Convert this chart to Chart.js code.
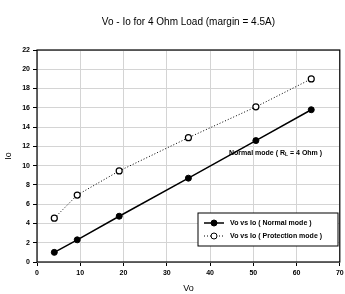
<!DOCTYPE html>
<html>
<head>
<meta charset="utf-8">
<script src="https://cdn.jsdelivr.net/npm/chart.js@4.4.0/dist/chart.umd.min.js"></script>
<style>
  html, body { margin: 0; padding: 0; background: #fff; }
  #wrap { width: 345px; height: 294px; }
</style>
</head>
<body>
<div id="wrap"><canvas id="myChart" width="345" height="294"></canvas></div>
<script>
"use strict";

// values
const vo = [4, 9.3, 19, 35, 50.6, 63.4];
const ioNormal = [1.0, 2.3, 4.75, 8.7, 12.6, 15.8];
const ioProtection = [4.55, 6.95, 9.45, 12.9, 16.1, 19.0];
const seriesNames = ['Vo vs Io ( Normal mode )', 'Vo vs Io ( Protection mode )'];

const FONT = '"Liberation Sans", Arial, sans-serif';

const toPoints = (xs, ys) => xs.map((x, i) => ({ x: x, y: ys[i] }));

// frame round the plot, the note and the boxed legend
const extras = {
  id: 'extras',
  afterDraw(chart) {
    const c = chart.ctx;
    const a = chart.chartArea;
    c.save();
    c.strokeStyle = '#000';
    c.lineWidth = 1.2;
    c.strokeRect(a.left, a.top, a.right - a.left, a.bottom - a.top);

    // note
    c.fillStyle = '#000';
    c.font = 'bold 7px ' + FONT;
    c.textBaseline = 'middle';
    let tx = 229, ty = 153;
    const parts = ['Normal mode ( R', 'L', ' = 4 Ohm )'];
    c.fillText(parts[0], tx, ty);
    tx += c.measureText(parts[0]).width;
    c.font = 'bold 5px ' + FONT;
    c.fillText(parts[1], tx, ty + 2);
    tx += c.measureText(parts[1]).width;
    c.font = 'bold 7px ' + FONT;
    c.fillText(parts[2], tx, ty);

    // legend box
    const bx = 198, by = 213, bw = 140, bh = 33;
    c.fillStyle = '#fff';
    c.fillRect(bx, by, bw, bh);
    c.lineWidth = 1;
    c.strokeRect(bx, by, bw, bh);
    chart.data.datasets.forEach((ds, i) => {
      const ly = by + 10 + i * 13;
      c.strokeStyle = '#000';
      c.lineWidth = ds.borderWidth;
      c.setLineDash(ds.borderDash || []);
      c.beginPath();
      c.moveTo(bx + 6, ly);
      c.lineTo(bx + 26, ly);
      c.stroke();
      c.setLineDash([]);
      c.lineWidth = 1;
      c.beginPath();
      c.arc(bx + 16, ly, ds.pointRadius, 0, Math.PI * 2);
      c.fillStyle = ds.pointBackgroundColor;
      c.fill();
      c.stroke();
      c.fillStyle = '#000';
      c.font = 'bold 7px ' + FONT;
      c.fillText(ds.label, bx + 32, ly);
    });
    c.restore();
  }
};

const ctx = document.getElementById('myChart');

new Chart(ctx, {
  type: 'scatter',
  data: {
    datasets: [
      {
        label: seriesNames[0],
        data: toPoints(vo, ioNormal),
        showLine: true,
        borderColor: '#000',
        borderWidth: 1.5,
        pointRadius: 3,
        pointBackgroundColor: '#000',
        pointBorderColor: '#000',
        pointBorderWidth: 1
      },
      {
        label: seriesNames[1],
        data: toPoints(vo, ioProtection),
        showLine: true,
        borderColor: '#000',
        borderWidth: 1,
        borderDash: [1, 2],
        pointRadius: 3,
        pointBackgroundColor: '#fff',
        pointBorderColor: '#000',
        pointBorderWidth: 1.2
      }
    ]
  },
  options: {
    responsive: false,
    animation: false,
    layout: { padding: { top: 16, right: 3, left: 0, bottom: 0 } },
    plugins: {
      legend: { display: false },
      tooltip: { enabled: false },
      title: {
        display: true,
        text: 'Vo - Io for 4 Ohm Load (margin = 4.5A)',
        fullSize: false,
        color: '#000',
        font: { family: FONT, size: 10, weight: 'normal' },
        padding: { top: 0, bottom: 22 }
      }
    },
    scales: {
      x: {
        type: 'linear',
        min: 0,
        max: 70,
        ticks: { stepSize: 10, color: '#000', padding: 3, font: { family: FONT, size: 7, weight: 'bold' } },
        grid: { color: '#d4d4d4', borderDash: [1, 3], tickLength: 4, tickColor: '#000', tickBorderDash: [] },
        border: { display: false },
        title: { display: true, text: 'Vo', color: '#000', padding: 0, font: { family: FONT, size: 9 } },
        afterFit(scale) { scale.height = 32; scale.paddingRight = 0; }
      },
      y: {
        min: 0,
        max: 22,
        ticks: { stepSize: 2, color: '#000', padding: 3, font: { family: FONT, size: 7, weight: 'bold' } },
        grid: { color: '#d4d4d4', borderDash: [1, 3], tickLength: 4, tickColor: '#000', tickBorderDash: [] },
        border: { display: false },
        title: { display: true, text: 'Io', color: '#000', padding: { top: 3, bottom: 0 }, font: { family: FONT, size: 9 } },
        afterFit(scale) { scale.width = 37; }
      }
    }
  },
  plugins: [extras]
});
</script>
</body>
</html>
